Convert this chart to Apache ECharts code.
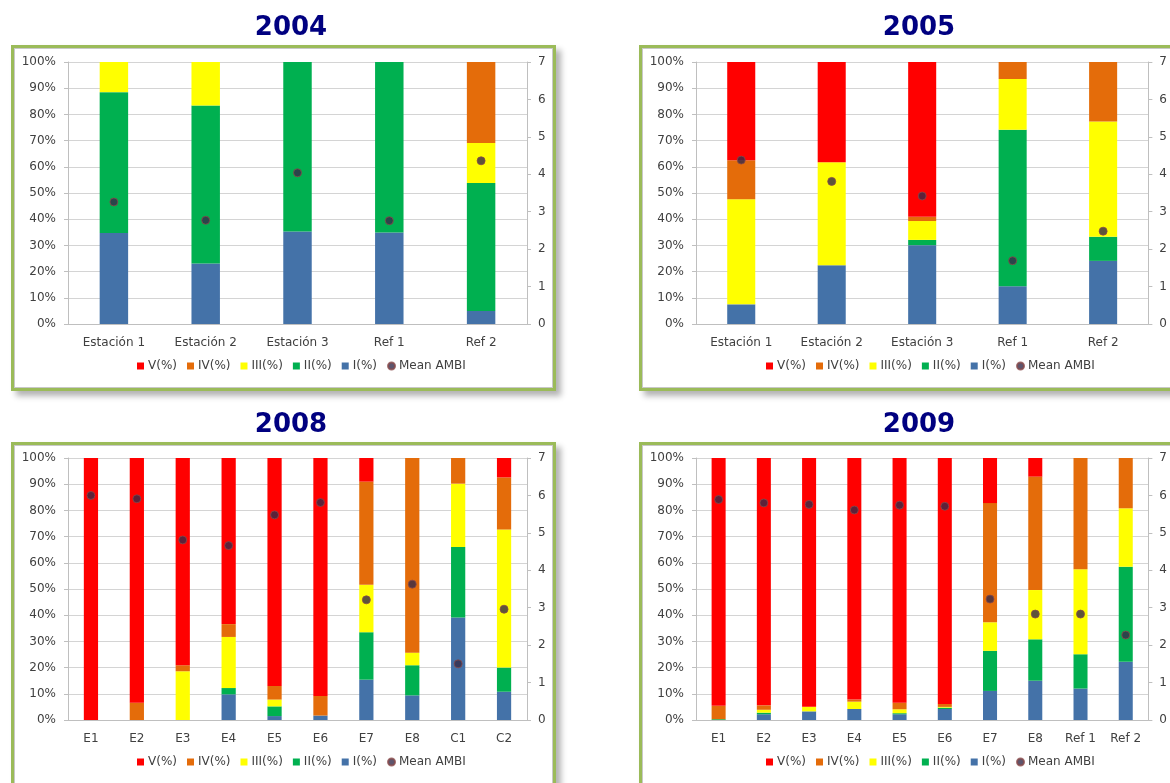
<!DOCTYPE html>
<html>
<head>
<meta charset="utf-8">
<script src="https://cdn.jsdelivr.net/npm/echarts@6/dist/echarts.min.js"></script>
<style>
    html, body { margin: 0; padding: 0; background: #fff; overflow: hidden; }
    .box {
        position: absolute;
        width: 539px;
        height: 340px;
        border: 3px solid #9bbb59;
        box-shadow: 5px 5px 6px rgba(0,0,0,0.3), inset 0 0 0 1px #c8c8c8;
        background: #fff;
    }
    #chart { position: absolute; left: 0; top: 0; width: 1170px; height: 783px; }
</style>
</head>
<body>
<div class="box" style="left:11px;top:45px;"></div>
<div class="box" style="left:639px;top:45px;"></div>
<div class="box" style="left:11px;top:442px;"></div>
<div class="box" style="left:639px;top:442px;"></div>
<div id="chart"></div>
<script>
// data
var years = ['2004', '2005', '2008', '2009'];
var levelNames = ['I(%)', 'II(%)', 'III(%)', 'IV(%)', 'V(%)'];
var legendOrder = ['V(%)', 'IV(%)', 'III(%)', 'II(%)', 'I(%)', 'Mean AMBI'];

var cats2004 = ['Estación 1', 'Estación 2', 'Estación 3', 'Ref 1', 'Ref 2'];
var i2004 = [34.7, 23.1, 35.3, 34.9, 5.0];
var ii2004 = [53.8, 60.3, 64.7, 65.1, 48.8];
var iii2004 = [11.5, 16.6, 0, 0, 15.3];
var iv2004 = [0, 0, 0, 0, 30.9];
var v2004 = [0, 0, 0, 0, 0];
var ambi2004 = [3.26, 2.77, 4.04, 2.76, 4.36];

var cats2005 = ['Estación 1', 'Estación 2', 'Estación 3', 'Ref 1', 'Ref 2'];
var i2005 = [7.5, 22.4, 30.1, 14.4, 24.1];
var ii2005 = [0, 0, 2.0, 59.7, 9.2];
var iii2005 = [40.1, 39.3, 7.2, 19.4, 44.0];
var iv2005 = [14.9, 0, 1.6, 6.5, 22.7];
var v2005 = [37.5, 38.3, 59.1, 0, 0];
var ambi2005 = [4.38, 3.81, 3.42, 1.69, 2.48];

var cats2008 = ['E1', 'E2', 'E3', 'E4', 'E5', 'E6', 'E7', 'E8', 'C1', 'C2'];
var i2008 = [0, 0, 0, 9.8, 1.5, 1.7, 15.4, 9.4, 39.1, 10.8];
var ii2008 = [0, 0, 0, 2.4, 3.7, 0, 18.1, 11.5, 26.9, 9.2];
var iii2008 = [0, 0, 18.6, 19.5, 2.6, 0, 18.1, 4.8, 24.2, 52.7];
var iv2008 = [0, 6.6, 2.3, 4.9, 5.2, 7.5, 39.4, 74.3, 9.8, 19.9];
var v2008 = [100, 93.4, 79.1, 63.4, 87.0, 90.8, 9.0, 0, 0, 7.4];
var ambi2008 = [6.00, 5.91, 4.81, 4.66, 5.48, 5.81, 3.21, 3.63, 1.50, 2.96];

var cats2009 = ['E1', 'E2', 'E3', 'E4', 'E5', 'E6', 'E7', 'E8', 'Ref 1', 'Ref 2'];
var i2009 = [0, 2.2, 3.3, 4.2, 2.2, 4.2, 11.1, 15.0, 12.0, 22.2];
var ii2009 = [0.3, 0.6, 0, 0, 0.4, 0.5, 15.3, 15.8, 13.1, 36.3];
var iii2009 = [0, 1.1, 1.8, 2.8, 1.5, 0.3, 10.9, 18.8, 32.4, 22.3];
var iv2009 = [5.1, 1.7, 0, 0.8, 2.5, 1.1, 45.5, 43.3, 42.5, 19.2];
var v2009 = [94.6, 94.4, 94.9, 92.2, 93.4, 93.9, 17.2, 7.1, 0, 0];
var ambi2009 = [5.89, 5.80, 5.76, 5.61, 5.74, 5.71, 3.23, 2.83, 2.83, 2.27];

var panels = [
    {cats: cats2004, levels: [i2004, ii2004, iii2004, iv2004, v2004], ambi: ambi2004},
    {cats: cats2005, levels: [i2005, ii2005, iii2005, iv2005, v2005], ambi: ambi2005},
    {cats: cats2008, levels: [i2008, ii2008, iii2008, iv2008, v2008], ambi: ambi2008},
    {cats: cats2009, levels: [i2009, ii2009, iii2009, iv2009, v2009], ambi: ambi2009}
];

var levelColors = ['#4472a8', '#00b050', '#ffff00', '#e46c0a', '#ff0000'];
var ambiColor = '#352a48';

// layout
var grids = [
    {left: 68, top: 62, width: 459, height: 262},
    {left: 696, top: 62, width: 460, height: 262},
    {left: 68, top: 458, width: 459, height: 262},
    {left: 696, top: 458, width: 460, height: 262}
];
var titlePos = [[291, 28], [919, 28], [291, 425], [919, 425]];
var legendPos = [[137, 360], [766, 360], [137, 756], [766, 756]];

var fontFam = '"DejaVu Sans", Verdana, sans-serif';
var labelColor = '#404040';
var lineColor = '#bfbfbf';

var option = {
    animation: false,
    color: levelColors,
    grid: [],
    xAxis: [],
    yAxis: [],
    legend: [],
    graphic: [],
    series: []
};

panels.forEach(function (p, k) {
    option.grid.push(grids[k]);
    option.xAxis.push({
        type: 'category',
        gridIndex: k,
        data: p.cats,
        axisLine: {lineStyle: {color: lineColor}},
        axisTick: {length: 4, lineStyle: {color: lineColor}},
        axisLabel: {interval: 0, margin: 13, color: labelColor, fontSize: 12, fontFamily: fontFam}
    });
    option.yAxis.push({
        type: 'value',
        gridIndex: k,
        min: 0,
        max: 100,
        interval: 10,
        axisLine: {show: true, lineStyle: {color: lineColor}},
        axisTick: {show: true, length: 4, lineStyle: {color: lineColor}},
        axisLabel: {formatter: '{value}%', margin: 12, color: labelColor, fontSize: 12, fontFamily: fontFam},
        splitLine: {lineStyle: {color: '#d4d4d4'}}
    });
    option.yAxis.push({
        type: 'value',
        gridIndex: k,
        position: 'right',
        min: 0,
        max: 7,
        interval: 1,
        axisLine: {show: true, lineStyle: {color: lineColor}},
        axisTick: {show: true, length: 4, lineStyle: {color: lineColor}},
        axisLabel: {margin: 11, color: labelColor, fontSize: 12, fontFamily: fontFam},
        splitLine: {show: false}
    });
    option.legend.push({
        left: legendPos[k][0],
        top: legendPos[k][1],
        itemWidth: 7,
        itemHeight: 7,
        itemGap: 10,
        padding: 0,
        textStyle: {color: labelColor, fontSize: 12, fontFamily: fontFam, padding: [0, 0, 0, -1]},
        data: legendOrder.map(function (n) {
            return {name: n, icon: n === 'Mean AMBI' ? 'circle' : 'rect'};
        })
    });
    option.graphic.push({
        type: 'text',
        x: titlePos[k][0],
        y: titlePos[k][1],
        style: {
            text: years[k],
            align: 'center',
            verticalAlign: 'middle',
            font: 'bold 26px "DejaVu Sans", sans-serif',
            fill: '#000080'
        }
    });
    p.levels.forEach(function (vals, j) {
        option.series.push({
            name: levelNames[j],
            type: 'bar',
            xAxisIndex: k,
            yAxisIndex: 2 * k,
            stack: 'ambi' + k,
            barWidth: '31%',
            itemStyle: {color: levelColors[j]},
            data: vals
        });
    });
    option.series.push({
        name: 'Mean AMBI',
        type: 'scatter',
        xAxisIndex: k,
        yAxisIndex: 2 * k + 1,
        symbolSize: 8,
        itemStyle: {color: ambiColor, borderColor: '#8a4a4a', borderWidth: 1},
        data: p.ambi,
        z: 5
    });
});

echarts.init(document.getElementById('chart')).setOption(option);
</script>
</body>
</html>
